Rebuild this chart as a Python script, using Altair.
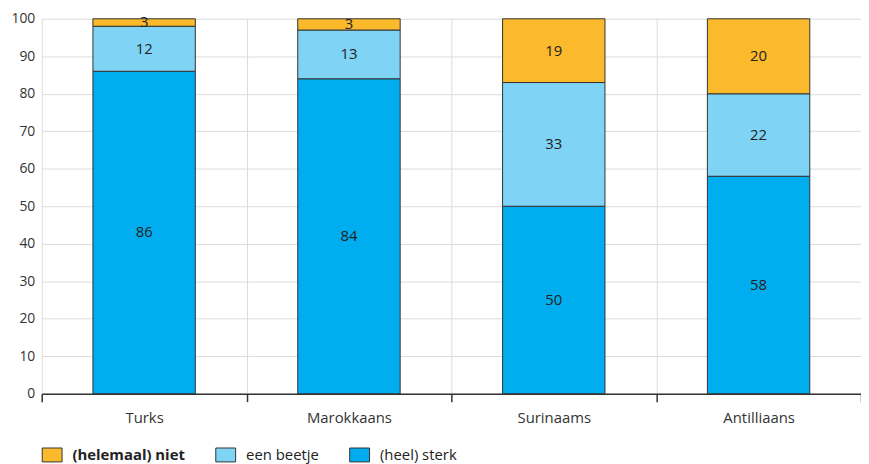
import altair as alt
import pandas as pd

categories = ["Turks", "Marokkaans", "Surinaams", "Antilliaans"]
sterk = [86, 84, 50, 58]
beetje = [12, 13, 33, 22]
niet = [3, 3, 19, 20]

groups = ["(helemaal) niet", "een beetje", "(heel) sterk"]
colors = ["#FBBA2C", "#7FD3F5", "#00AEEF"]

rows = []
for i, c in enumerate(categories):
    rows.append({"cat": c, "grp": "(heel) sterk", "ord": 0, "value": sterk[i]})
    rows.append({"cat": c, "grp": "een beetje", "ord": 1, "value": beetje[i]})
    rows.append({"cat": c, "grp": "(helemaal) niet", "ord": 2, "value": niet[i]})
df = pd.DataFrame(rows)

base = alt.Chart(df).transform_stack(
    stack="value", groupby=["cat"], as_=["y0", "y1"],
    sort=[alt.SortField("ord", order="ascending")]
).transform_calculate(
    y1c="min(datum.y1, 100)",
    mid="(datum.y0 + min(datum.y1, 100)) / 2"
)

xenc = alt.X("cat:N", sort=categories,
             scale=alt.Scale(paddingInner=0, paddingOuter=0),
             axis=alt.Axis(title=None, tickBand="extent", grid=True, labelAngle=0))
yscale = alt.Scale(domain=[0, 100], nice=False)
yaxis = alt.Axis(title=None, values=list(range(0, 101, 10)))

bars = base.mark_bar(stroke="#333333", strokeWidth=1,
                     width=alt.RelativeBandSize(0.5)).encode(
    y=alt.Y("y0:Q", scale=yscale, axis=yaxis),
    y2="y1c:Q",
    color=alt.Color("grp:N", scale=alt.Scale(domain=groups, range=colors),
                    legend=alt.Legend(
                        title=None, orient="none", legendX=0, legendY=429,
                        direction="horizontal",
                        symbolType="M-1,-0.7L1,-0.7L1,0.7L-1,0.7Z",
                        symbolSize=400, symbolStrokeColor="#333333",
                        symbolStrokeWidth=1, symbolOpacity=1,
                        labelFontSize=15, labelColor="#222222",
                        labelOffset=10, columnPadding=28,
                        labelFontWeight=alt.ExprRef(
                            "datum.label == '(helemaal) niet' ? 'bold' : 'normal'"),
                    )),
)

text = base.mark_text(fontSize=15, color="#222222").encode(
    y=alt.Y("mid:Q", scale=yscale, axis=yaxis),
    text="value:Q",
)

chart = alt.layer(bars, text).encode(x=xenc).properties(
    width=826, height=378,
    autosize="none",
    padding={"left": 34, "top": 9, "right": 0, "bottom": 69},
).configure(font="Open Sans").configure_view(stroke=None).configure_axisY(
    grid=True, gridColor="#dcdcdc", domain=False, ticks=False,
    labelPadding=7, labelFontSize=14, labelColor="#333333",
).configure_axisX(
    grid=True, gridColor="#dcdcdc", domainColor="#333333", domainWidth=1.5,
    tickColor="#333333", tickSize=8, tickWidth=1.5,
    labelFontSize=15, labelColor="#333333", labelPadding=9,
)

chart.save("out.html", embed_options={"renderer": "svg", "actions": False})
